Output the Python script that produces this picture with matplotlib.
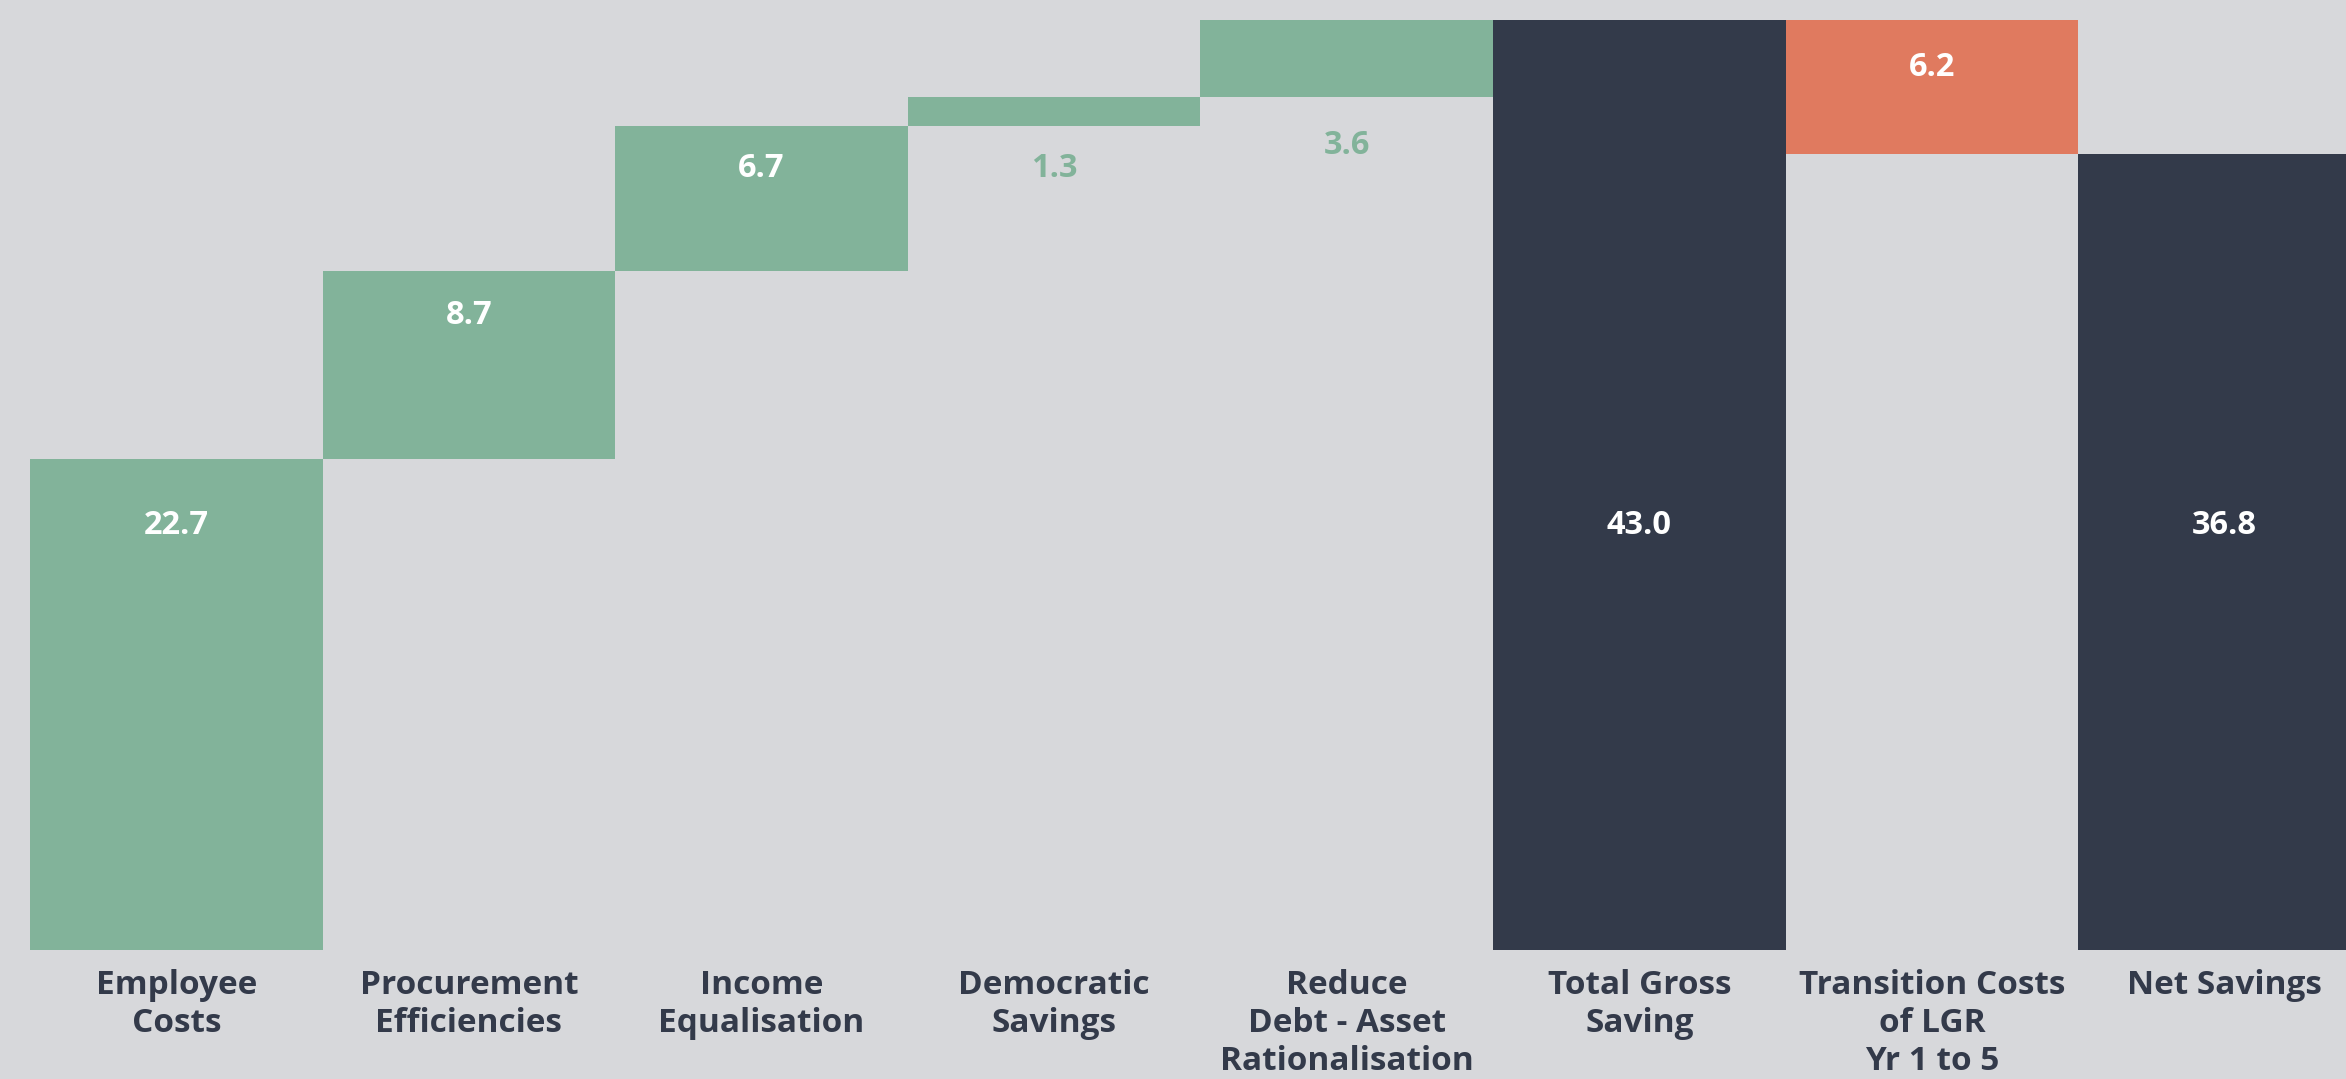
import matplotlib.pyplot as plt
import numpy as np

# Waterfall of savings (£m)
categories = ["Employee\nCosts", "Procurement\nEfficiencies", "Income\nEqualisation",
              "Democratic\nSavings", "Reduce\nDebt - Asset\nRationalisation",
              "Total Gross\nSaving", "Transition Costs\nof LGR\nYr 1 to 5", "Net Savings"]
savings = [22.7, 8.7, 6.7, 1.3, 3.6]
transition_cost = 6.2
# where each value label sits, in data units
label_y = [19.6, 29.3, 36.1, 36.1, 37.2, 19.6, 40.8, 19.6]

GREEN = "#82b39a"
DARK = "#333a4a"
ORANGE = "#e07a5f"
BG = "#d7d8db"

gross = round(sum(savings), 1)
net = round(gross - transition_cost, 1)

bottoms = list(np.cumsum([0] + savings[:-1])) + [0, net, 0]
heights = savings + [gross, transition_cost, net]
colors = [GREEN] * len(savings) + [DARK, ORANGE, DARK]
values = savings + [gross, transition_cost, net]

W, H = 2346, 1079
fig = plt.figure(figsize=(W / 100, H / 100), dpi=100, facecolor=BG)

# pixel layout: bars start 30px in, each 292.6px wide, baseline 950px from top
bar_px = 292.6
left_px = 30
base_px = 950
top_px = 19.5
ax = fig.add_axes([0, (H - base_px) / H, 1, base_px / H])
ax.set_facecolor(BG)

x = np.arange(len(categories))
ax.bar(x, heights, bottom=bottoms, width=1.0, color=colors, linewidth=0)

x0 = -0.5 - left_px / bar_px
ax.set_xlim(x0, x0 + W / bar_px)
ax.set_ylim(0, gross * base_px / (base_px - top_px))

for i, v in enumerate(values):
    inside = label_y[i] > bottoms[i]
    ax.text(x[i], label_y[i], f"{v:.1f}", ha="center", va="center",
            fontsize=23.5, fontweight="bold", family="Open Sans",
            color="white" if inside else GREEN)

ax.set_xticks(x)
ax.set_xticklabels(categories, fontsize=24, fontweight="bold", family="Open Sans",
                   color=DARK, linespacing=1.2)
ax.tick_params(axis="x", length=0, pad=14)
ax.set_yticks([])
for s in ax.spines.values():
    s.set_visible(False)

fig.savefig("out.png", dpi=100, facecolor=BG)
